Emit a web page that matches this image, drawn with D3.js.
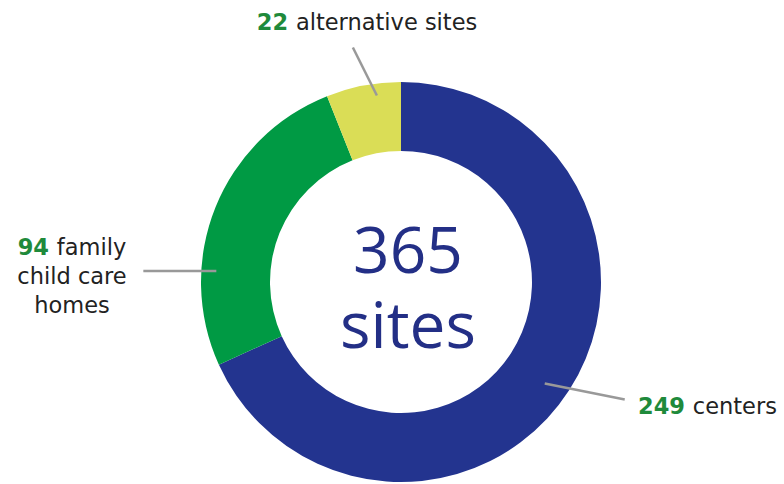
<!DOCTYPE html>
<html>
<head>
<meta charset="utf-8">
<script src="https://cdn.jsdelivr.net/npm/d3@7"></script>
<style>
  body { margin: 0; background: #fff; }
  svg { display: block; font-family: "Open Sans", "DejaVu Sans", sans-serif; }
</style>
</head>
<body>
<div id="chart"></div>
<script>
// Data
const categories = ["centers", "family child care homes", "alternative sites"];
const counts = [249, 94, 22];
const labelLines = [["centers"], ["family", "child care", "homes"], ["alternative sites"]];
const centerWord = "sites";

// Layout
const width = 784;
const height = 484;
const cx = 401, cy = 282;
const outerR = 200, innerR = 131;
const colors = ["#23348f", "#009a44", "#dadd56"];

// leader line: where it touches the ring (fraction of slice, radius) and its offset
const leaders = [
    { f: 0.51, r: 176, dx: 80, dy: 16 },
    { f: 0.30, r: 185, dx: -73, dy: 0 },
    { f: 0.66, r: 188, dx: -24, dy: -48 }
];
// label text anchor position relative to the ring centre
const labelPos = [
    { x: 237, y: 132, anchor: "start" },
    { x: -329, y: -27, anchor: "middle" },
    { x: -34, y: -252, anchor: "middle" }
];

const svg = d3.select("#chart")
    .append("svg")
    .attr("width", width)
    .attr("height", height);

const g = svg.append("g")
    .attr("transform", `translate(${cx},${cy})`);

const pie = d3.pie()
    .sort(null)
    .value(d => d);

const arcs = pie(counts);

const arc = d3.arc()
    .innerRadius(innerR)
    .outerRadius(outerR);

// Ring slices
g.selectAll("path.slice")
    .data(arcs)
    .enter().append("path")
    .attr("class", "slice")
    .attr("fill", (d, i) => colors[i])
    .attr("d", arc);

// Leader lines
const leaderStart = (d, i) => {
    const a = d.startAngle + leaders[i].f * (d.endAngle - d.startAngle);
    return [leaders[i].r * Math.sin(a), -leaders[i].r * Math.cos(a)];
};

g.selectAll("line.leader")
    .data(arcs)
    .enter().append("line")
    .attr("class", "leader")
    .attr("x1", (d, i) => leaderStart(d, i)[0])
    .attr("y1", (d, i) => leaderStart(d, i)[1])
    .attr("x2", (d, i) => leaderStart(d, i)[0] + leaders[i].dx)
    .attr("y2", (d, i) => leaderStart(d, i)[1] + leaders[i].dy)
    .attr("stroke", "#999")
    .attr("stroke-width", 2.5);

// Labels
const labels = g.selectAll("text.label")
    .data(arcs)
    .enter().append("text")
    .attr("class", "label")
    .attr("text-anchor", (d, i) => labelPos[i].anchor)
    .style("font-family", "'DejaVu Sans', sans-serif")
    .style("font-size", "22.5px")
    .attr("fill", "#222");

labels.each(function(d, i) {
    const t = d3.select(this);
    labelLines[i].forEach((line, j) => {
        const ts = t.append("tspan")
            .attr("x", labelPos[i].x)
            .attr("y", labelPos[i].y + j * 29);
        if (j === 0) {
            ts.append("tspan")
                .attr("fill", "#1f8a3b")
                .attr("font-weight", "bold")
                .text(d.data + " ");
        }
        ts.append("tspan").text(line);
    });
});

// Centre total
const total = d3.sum(counts);
const centre = g.append("text")
    .attr("text-anchor", "middle")
    .attr("fill", "#232f86")
    .style("font-size", "64px");

centre.append("tspan")
    .attr("x", 7)
    .attr("y", -9)
    .text(total);

centre.append("tspan")
    .attr("x", 7)
    .attr("y", 66)
    .text(centerWord);
</script>
</body>
</html>
